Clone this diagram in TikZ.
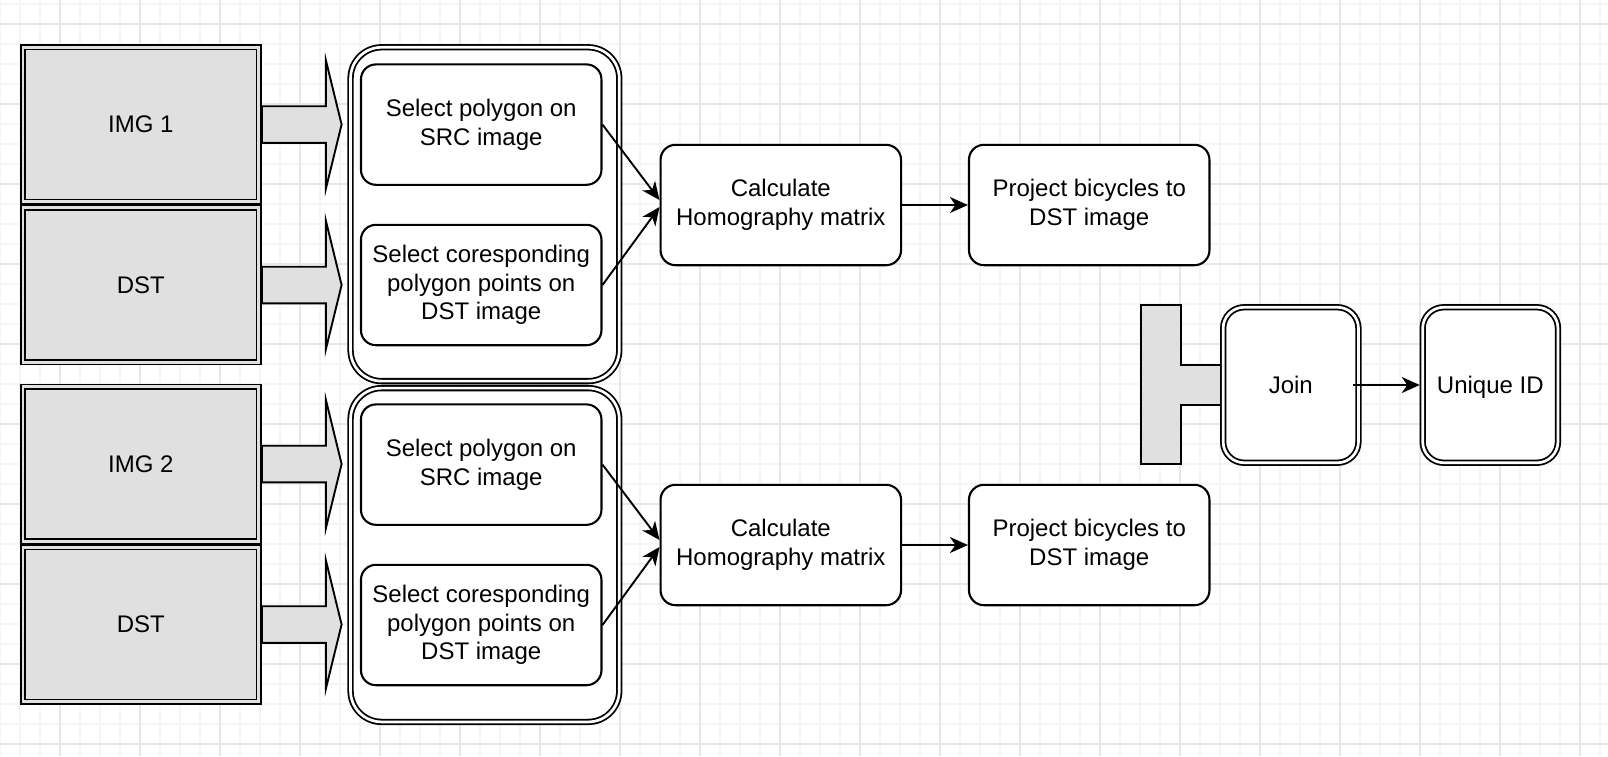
\documentclass[tikz,border=0pt]{standalone}
\usepackage{fontspec}
\setmainfont{Liberation Sans}
\usetikzlibrary{arrows.meta,calc}
\definecolor{boxgray}{HTML}{E0E0E0}
\definecolor{gridminor}{HTML}{F5F5F5}
\definecolor{gridmajor}{HTML}{E7E7E7}
\begin{document}
\begin{tikzpicture}[x=1pt,y=-1pt,
  txt/.style={font=\fontsize{24}{28.5}\selectfont, align=center, text=black},
  dblbox/.style={txt, draw=black, line width=1.8pt, double distance=2.7pt, inner sep=0pt},
  imgbox/.style={dblbox, double=boxgray, fill=boxgray, minimum width=235.7pt, minimum height=154.5pt},
  contbox/.style={dblbox, double=white, fill=white, rounded corners=31pt, minimum width=268.7pt, minimum height=333.8pt},
  smallbox/.style={dblbox, double=white, fill=white, rounded corners=21pt, minimum width=135.3pt, minimum height=155.5pt},
  procbox/.style={txt, draw=black, fill=white, line width=2.1pt, rounded corners=15pt, inner sep=0pt, minimum width=240.5pt, minimum height=120.4pt},
  blockarrow/.style={draw=black, fill=boxgray, line width=1.9pt, line join=miter},
  conn/.style={line width=1.9pt, -{Stealth[length=18pt,width=16pt,inset=5.5pt]}},
  gminor/.style={draw=gridminor, line width=1.2pt},
  gmajor/.style={draw=gridmajor, line width=1.5pt}
]
\useasboundingbox (0,0) rectangle (1608,756);
\fill[white] (0,0) rectangle (1608,756);
% grid
\foreach \x in {0,20,...,1600} \draw[gminor] (\x,0) -- (\x,756);
\foreach \y in {4,24,...,744} \draw[gminor] (0,\y) -- (1608,\y);
\foreach \x in {60,140,...,1580} \draw[gmajor] (\x,0) -- (\x,756);
\foreach \y in {24,104,...,744} \draw[gmajor] (0,\y) -- (1608,\y);

% left image boxes
\node[imgbox] (img1) at (140.9,124.5) {IMG 1};
\node[imgbox] (dst1) at (140.9,285) {DST};
\node[imgbox] (img2) at (140.9,464) {IMG 2};
\node[imgbox] (dst2) at (140.9,624.5) {DST};

% containers
\node[contbox] (cont1) at (484.9,214.2) {};
\node[contbox] (cont2) at (484.9,555) {};

% select boxes
\node[procbox] (sel1) at (481.2,124.6) {Select polygon on\\SRC image};
\node[procbox] (sel2) at (481.2,285) {Select coresponding\\polygon points on\\DST image};
\node[procbox] (sel3) at (481.2,464.6) {Select polygon on\\SRC image};
\node[procbox] (sel4) at (481.2,625) {Select coresponding\\polygon points on\\DST image};

% calculate and project
\node[procbox] (calc1) at (780.8,205) {Calculate\\Homography matrix};
\node[procbox] (proj1) at (1089.2,205) {Project bicycles to\\DST image};
\node[procbox] (calc2) at (780.8,545) {Calculate\\Homography matrix};
\node[procbox] (proj2) at (1089.2,545) {Project bicycles to\\DST image};

% T shape
\draw[blockarrow] (1140.7,305) -- (1180.7,305) -- (1180.7,365) -- (1220.7,365) -- (1220.7,405) -- (1180.7,405) -- (1180.7,464.3) -- (1140.7,464.3) -- cycle;

% join and unique
\node[smallbox] (join) at (1290.8,385) {Join};
\node[smallbox] (uniq) at (1490.3,385) {\raisebox{0pt}[\height][0pt]{Unique ID}};

% block arrows
\foreach \n in {img1,dst1,img2,dst2}{
  \draw[blockarrow] ($(\n.east)+(2.25,-18.3)$) -- ++(64,0) -- ++(0,-45.9) -- ++(15.7,64.2) -- ++(-15.7,64.2) -- ++(0,-45.9) -- ++(-64,0) -- cycle;
}

% connectors
\draw[conn] (sel1.east) -- ($(calc1.west)+(0,-5)$);
\draw[conn] (sel2.east) -- ($(calc1.west)+(0,2)$);
\draw[conn] (calc1.east) -- (proj1.west);
\draw[conn] (sel3.east) -- ($(calc2.west)+(0,-5)$);
\draw[conn] (sel4.east) -- ($(calc2.west)+(0,2)$);
\draw[conn] (calc2.east) -- (proj2.west);
\draw[conn] ($(join.east)+(-6,0)$) -- ($(uniq.west)+(-2,0)$);
\end{tikzpicture}
\end{document}
